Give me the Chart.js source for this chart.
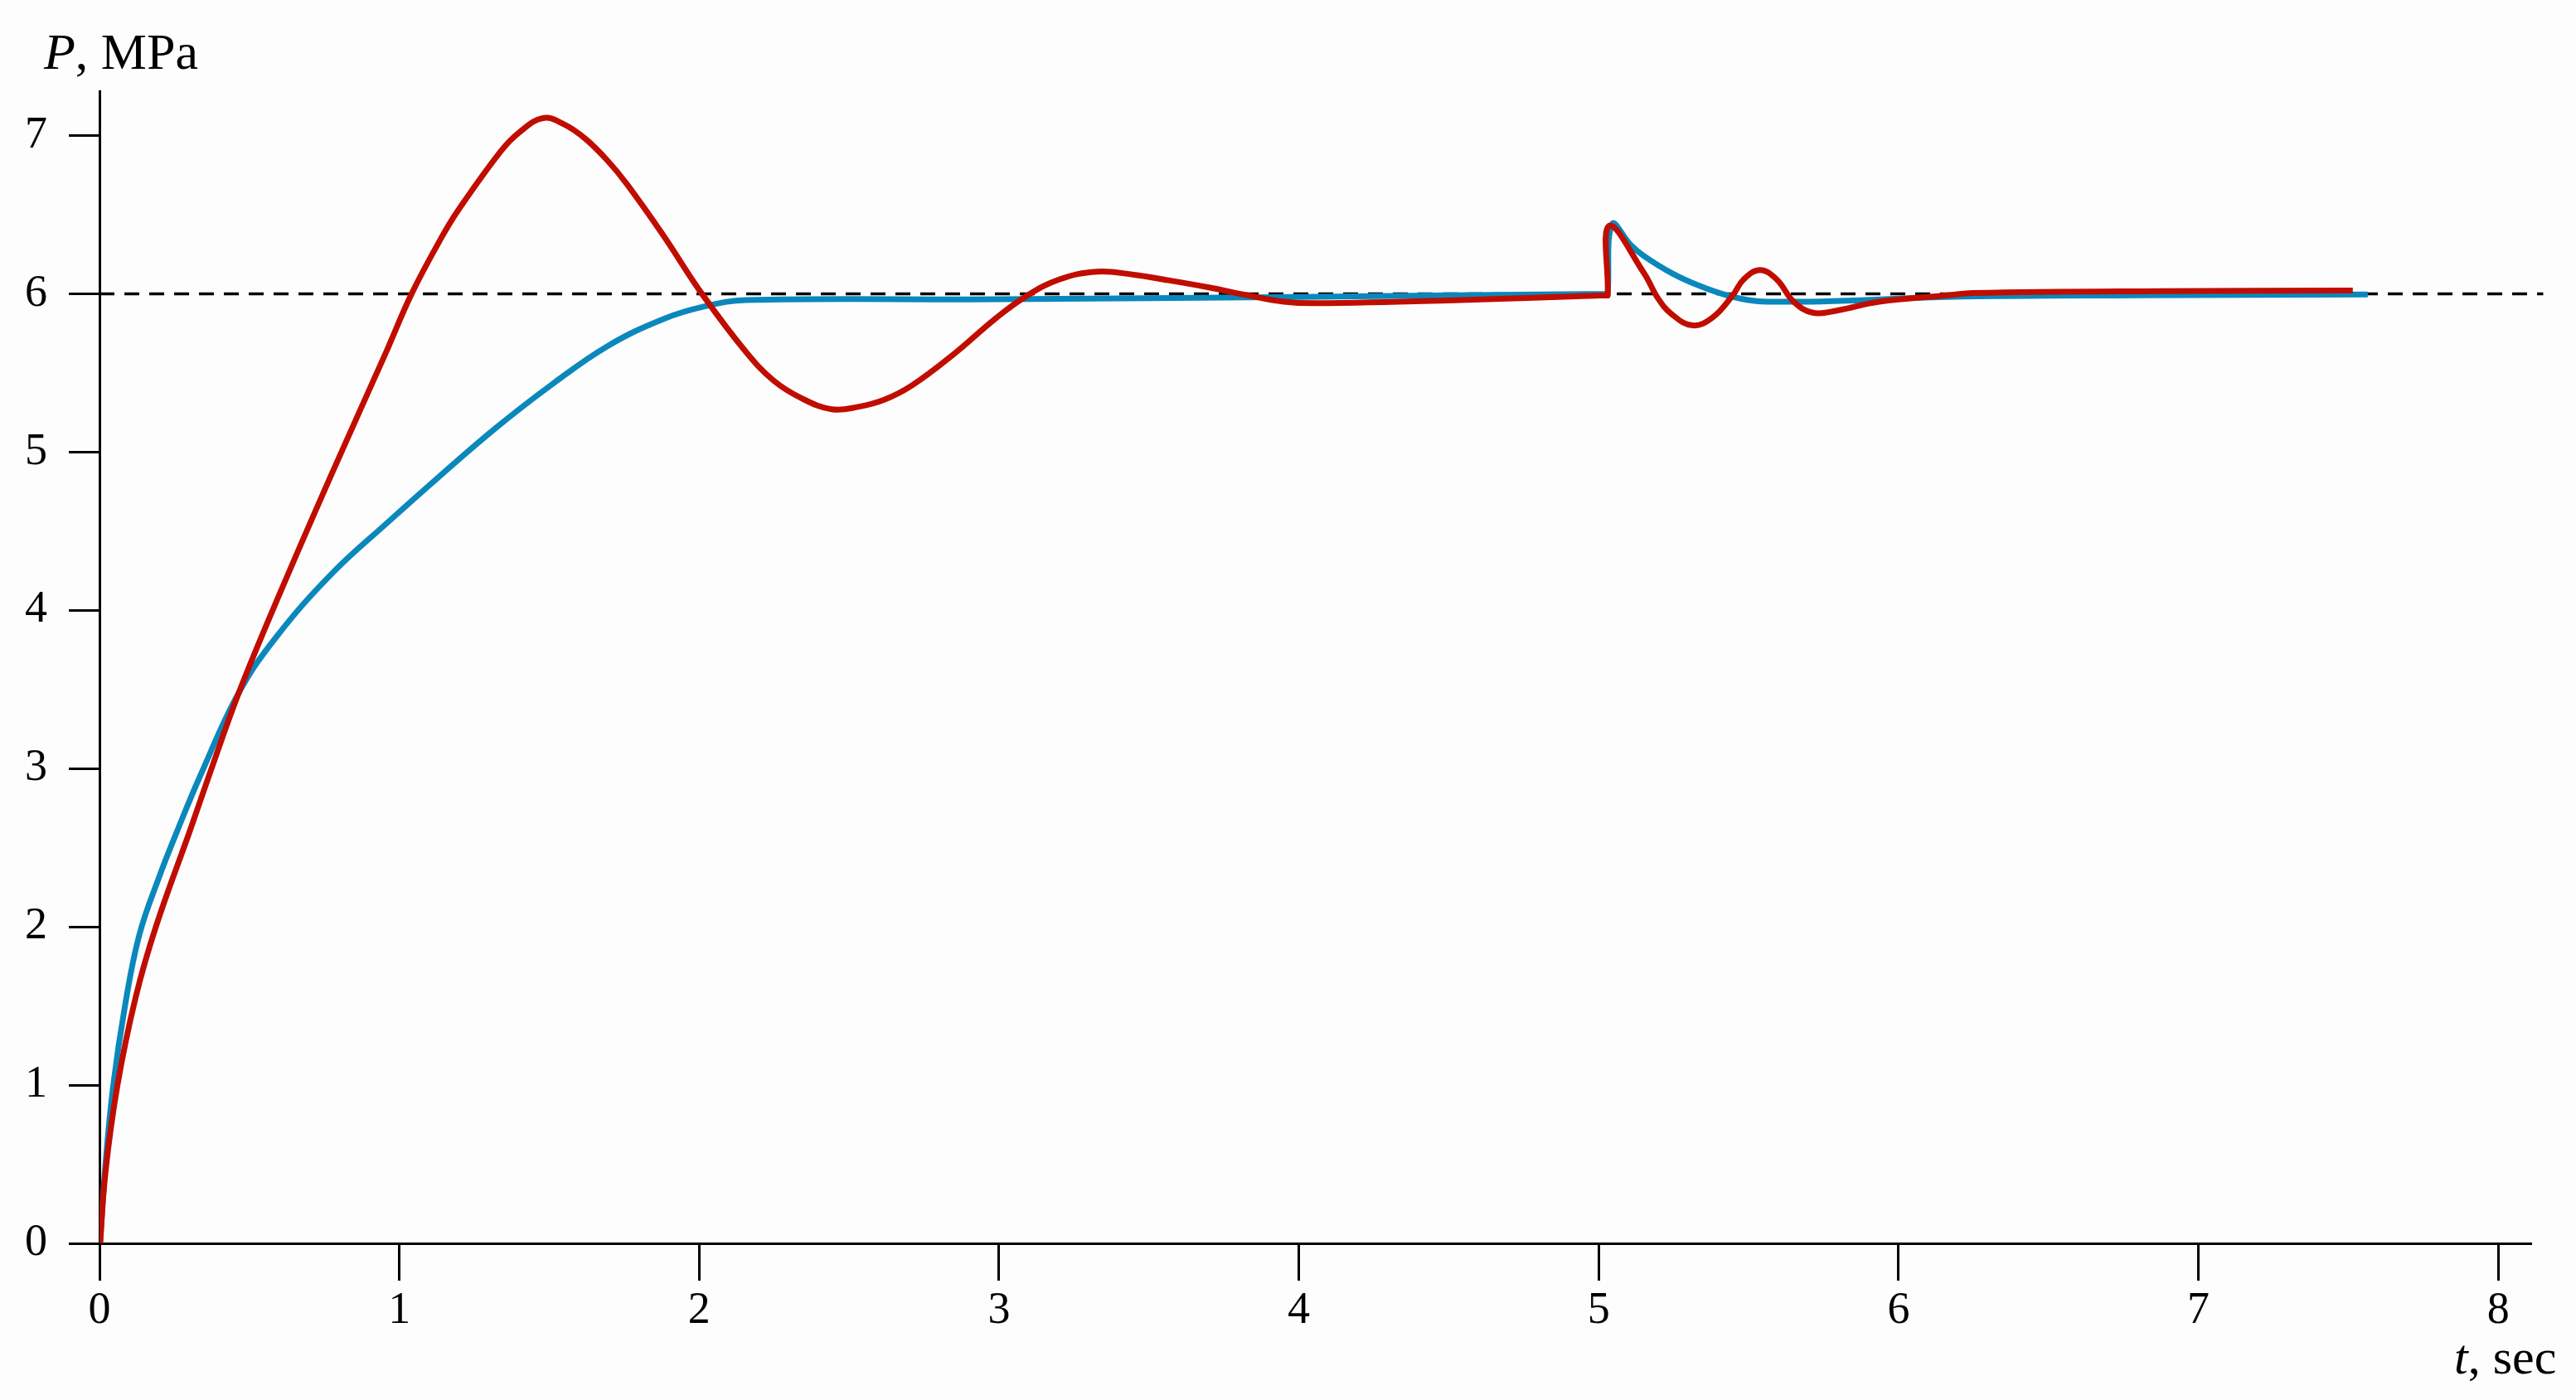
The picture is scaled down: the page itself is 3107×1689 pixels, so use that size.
<!DOCTYPE html>
<html>
<head>
<meta charset="utf-8">
<script src="https://cdn.jsdelivr.net/npm/chart.js@4"></script>
<style>
  body { margin: 0; background: #fdfdfd; }
  canvas { display: block; }
</style>
</head>
<body>
<canvas id="myChart" width="3107" height="1689"></canvas>
<script>
// time (sec) and pressure (MPa)
const redT = [0, 0.02, 0.06, 0.12, 0.188, 0.304, 0.368, 0.465, 0.6, 0.774, 0.958, 1.041, 1.142, 1.197, 1.338, 1.40, 1.479, 1.55, 1.62, 1.695, 1.76, 1.88, 2.009, 2.157, 2.249, 2.341, 2.442, 2.53, 2.617, 2.709, 2.85, 2.986, 3.087, 3.2, 3.327, 3.45, 3.55, 3.7, 3.83, 3.95, 4.06, 4.54, 5.025, 5.03, 5.035, 5.151, 5.198, 5.244, 5.313, 5.38, 5.447, 5.483, 5.538, 5.594, 5.65, 5.714, 5.797, 5.935, 6.165, 6.247, 6.88, 7.515];
const redP = [-0.06, 0.45, 1.0, 1.55, 2.0, 2.62, 2.97, 3.48, 4.1, 4.86, 5.64, 6.0, 6.36, 6.53, 6.90, 7.02, 7.11, 7.07, 6.98, 6.84, 6.69, 6.37, 6.0, 5.63, 5.45, 5.34, 5.27, 5.285, 5.33, 5.42, 5.62, 5.84, 5.98, 6.09, 6.14, 6.12, 6.09, 6.04, 5.99, 5.95, 5.94, 5.96, 5.99, 5.99, 6.43, 6.13, 5.97, 5.87, 5.80, 5.85, 5.99, 6.09, 6.15, 6.09, 5.95, 5.88, 5.895, 5.95, 5.99, 6.005, 6.017, 6.02];

const blueT = [0, 0.02, 0.046, 0.085, 0.133, 0.2, 0.258, 0.335, 0.465, 0.589, 0.774, 0.958, 1.142, 1.327, 1.511, 1.695, 1.88, 2.018, 2.157, 3.0, 4.0, 5.028, 5.03, 5.045, 5.106, 5.15, 5.244, 5.336, 5.428, 5.52, 5.612, 5.705, 5.889, 6.165, 6.8, 7.565];
const blueP = [-0.06, 0.5, 1.0, 1.5, 1.95, 2.32, 2.6, 2.95, 3.48, 3.83, 4.23, 4.55, 4.86, 5.16, 5.43, 5.67, 5.84, 5.92, 5.96, 5.965, 5.98, 6.0, 6.0, 6.44, 6.31, 6.24, 6.13, 6.05, 5.99, 5.955, 5.95, 5.95, 5.96, 5.98, 5.99, 5.995];

const refT = [0, 8.15];
const refP = [6, 6];

const xTicks = [0, 1, 2, 3, 4, 5, 6, 7, 8];
const yTicks = [0, 1, 2, 3, 4, 5, 6, 7];

const toPts = (xs, ys) => xs.map((x, i) => ({ x: x, y: ys[i] }));

const serif = '"Liberation Serif", "Times New Roman", serif';

const axisTitles = {
    id: 'axisTitles',
    afterDraw(chart) {
        const c = chart.ctx;
        c.save();
        c.fillStyle = '#000';
        c.textBaseline = 'alphabetic';
        c.textAlign = 'left';
        // P, MPa
        c.font = 'italic 62px ' + serif;
        c.fillText('P', 53, 83);
        let w = c.measureText('P').width;
        c.font = '62px ' + serif;
        c.fillText(', MPa', 53 + w, 83);
        // t, sec
        c.font = 'italic 60px ' + serif;
        c.fillText('t', 2960, 1657);
        w = c.measureText('t').width;
        c.font = '60px ' + serif;
        c.fillText(', sec', 2960 + w, 1657);
        c.restore();
    }
};

const ctx = document.getElementById('myChart').getContext('2d');
const myChart = new Chart(ctx, {
    type: 'line',
    data: {
        datasets: [{
            data: toPts(redT, redP),
            borderColor: '#c00d00',
            borderWidth: 7,
            pointRadius: 0,
            tension: 0.4,
            order: 0
        }, {
            data: toPts(blueT, blueP),
            borderColor: '#0a88bc',
            borderWidth: 7,
            pointRadius: 0,
            tension: 0.4,
            order: 1
        }, {
            data: toPts(refT, refP),
            borderColor: '#000',
            borderWidth: 3.5,
            borderDash: [18, 12],
            pointRadius: 0,
            clip: false,
            order: 2
        }]
    },
    options: {
        responsive: false,
        devicePixelRatio: 1,
        animation: false,
        layout: { padding: { top: 110, right: 54, left: 0, bottom: 0 } },
        plugins: {
            legend: { display: false },
            tooltip: { enabled: false }
        },
        scales: {
            x: {
                type: 'linear',
                min: 0,
                max: 8.11,
                grid: { drawOnChartArea: false, drawTicks: true, tickLength: 45, tickWidth: 3, tickColor: '#000' },
                border: { display: true, color: '#000', width: 3 },
                ticks: { font: { family: serif, size: 54 }, color: '#000', padding: 4, maxRotation: 0, autoSkip: false },
                afterBuildTicks: s => { s.ticks = xTicks.map(v => ({ value: v })); },
                afterFit: s => { s.height = 189; }
            },
            y: {
                min: 0,
                max: 7.28,
                grid: { drawOnChartArea: false, drawTicks: true, tickLength: 37, tickWidth: 3, tickColor: '#000' },
                border: { display: true, color: '#000', width: 3 },
                ticks: { font: { family: serif, size: 54 }, color: '#000', padding: 26, autoSkip: false },
                afterBuildTicks: s => { s.ticks = yTicks.map(v => ({ value: v })); },
                afterFit: s => { s.width = 120; }
            }
        }
    },
    plugins: [axisTitles]
});
</script>
</body>
</html>
